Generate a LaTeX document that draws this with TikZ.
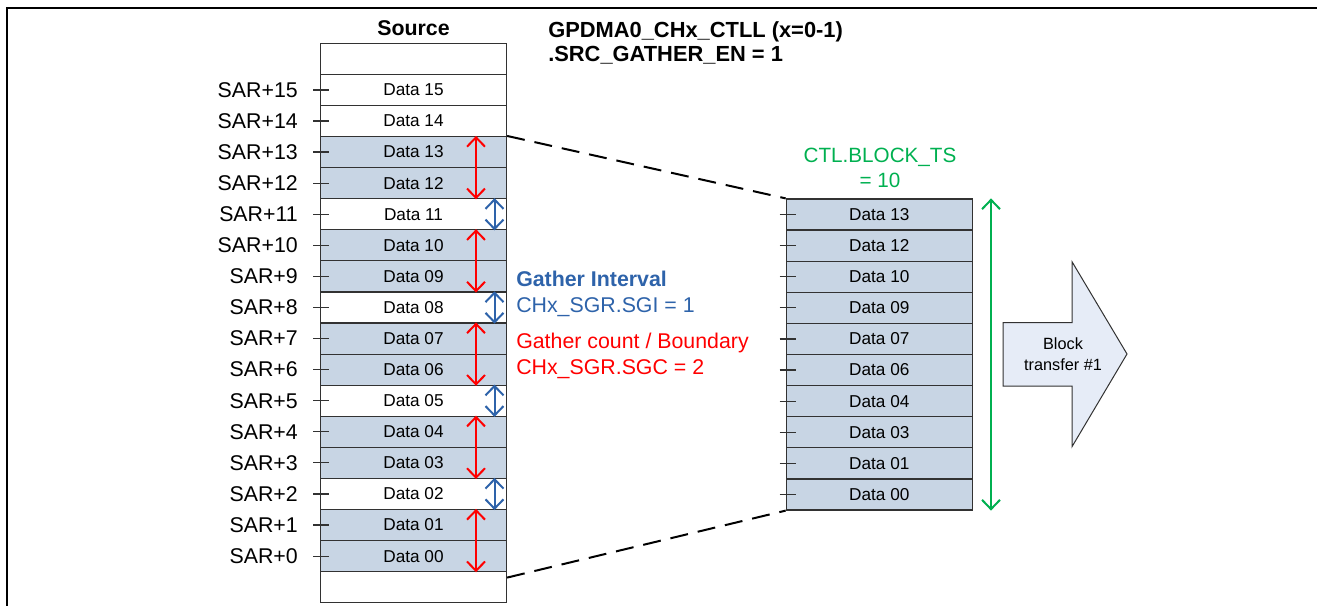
\documentclass[tikz,border=0pt]{standalone}
\usepackage{fontspec}
\setmainfont{Liberation Sans}
\usetikzlibrary{arrows.meta,calc}
\definecolor{cellfill}{RGB}{200,213,228}
\definecolor{cellline}{RGB}{50,50,50}
\definecolor{gblue}{RGB}{46,99,170}
\definecolor{gred}{RGB}{255,0,0}
\definecolor{ggreen}{RGB}{0,176,80}
\definecolor{blkfill}{RGB}{230,236,247}
\tikzset{
  cell/.style={draw=cellline,line width=0.9pt,minimum width=139.5pt,minimum height=23.31pt,inner sep=0pt,font=\fontsize{12.9}{15}\selectfont},
  shaded/.style={cell,fill=cellfill},
  plain/.style={cell,fill=white},
  sarlabel/.style={anchor=east,inner sep=0pt,font=\fontsize{16}{19}\selectfont},
  tickline/.style={draw=cellline,line width=0.9pt},
  dblarrow/.style={line width=1.5pt,{Straight Barb[length=7pt,width=13.5pt]}-{Straight Barb[length=7pt,width=13.5pt]}},
  redarr/.style={dblarrow,draw=gred},
  bluearr/.style={dblarrow,draw=gblue},
  greenarr/.style={dblarrow,draw=ggreen},
  dashline/.style={line width=1.5pt,dash pattern=on 13.5pt off 7.5pt},
  bigtext/.style={inner sep=0pt,font=\fontsize{16}{19}\selectfont},
  boldtext/.style={inner sep=0pt,font=\bfseries\fontsize{16}{19}\selectfont},
  regtext/.style={inner sep=0pt,font=\bfseries\fontsize{16.4}{19}\selectfont},
  blkarrow/.style={draw=cellline,line width=0.75pt,fill=blkfill},
}
\begin{document}
\begin{tikzpicture}[x=0.75pt,y=-0.75pt]
\useasboundingbox (0,0) rectangle (1317,606);
% frame
\draw[line width=1.6pt] (6.7,606) -- (6.7,7.7) -- (1317,7.7);
% source column
\node[plain] (stop) at (413.5,{43.3+31.08*0.5}) {};
\foreach \k/\lab/\st in {15/15/plain,14/14/plain,13/13/shaded,12/12/shaded,11/11/plain,10/10/shaded,9/09/shaded,8/08/plain,7/07/shaded,6/06/shaded,5/05/plain,4/04/shaded,3/03/shaded,2/02/plain,1/01/shaded,0/00/shaded}{
  \pgfmathsetmacro\yy{43.3+31.08*(16-\k+0.5)}
  \node[\st] (s\lab) at (413.5,\yy) {Data \lab};
  \node[sarlabel] (sar\lab) at (298,\yy) {SAR+\k};
  \draw[tickline] ([xshift=-4.9pt]s\lab.west) -- ([xshift=7.1pt]s\lab.west);
}
\node[plain] (sbot) at (413.5,{43.3+31.08*17.5}) {};
\node[boldtext,anchor=base] (src) at (413.5,35.2) {Source};
% destination column
\foreach \lab [count=\i from 0] in {13,12,10,09,07,06,04,03,01,00}{
  \pgfmathsetmacro\yy{199+31.1*(\i+0.5)}
  \node[shaded] (d\lab) at (879.3,\yy) {Data \lab};
  \draw[tickline] ([xshift=-4.5pt]d\lab.west) -- ([xshift=7.5pt]d\lab.west);
}
% register text
\node[regtext,anchor=base west] (reg1) at (548,38) {GPDMA0\_CHx\_CTLL (x=0-1)};
\node[regtext,anchor=base west] (reg2) at (548,62) {.SRC\_GATHER\_EN = 1};
% red arrows (gather count)
\foreach \a/\b in {13/12,10/09,07/06,04/03,01/00}{
  \draw[redarr] (s\a.north -| 476,0) -- (s\b.south -| 476,0);
}
% blue arrows (gather interval)
\foreach \a in {11,08,05,02}{
  \draw[bluearr] (s\a.north -| 494.5,0) -- (s\a.south -| 494.5,0);
}
% dashed projection lines
\draw[dashline] (s13.north east) -- (d13.north west);
\draw[dashline] ([yshift=-4pt]s00.south east) -- (d00.south west);
% gather texts
\node[boldtext,anchor=base west,text=gblue] (gi1) at (516,286) {Gather Interval};
\node[bigtext,anchor=base west,text=gblue] (gi2) at (516,312) {CHx\_SGR.SGI = 1};
\node[bigtext,anchor=base west,text=gred] (gc1) at (516,348.4) {Gather count / Boundary};
\node[bigtext,anchor=base west,text=gred] (gc2) at (516,374.4) {CHx\_SGR.SGC = 2};
% block size
\node[inner sep=0pt,anchor=base,text=ggreen,font=\fontsize{15.5}{19}\selectfont] (bts1) at (880,162.5) {CTL.BLOCK\_TS};
\node[inner sep=0pt,anchor=base,text=ggreen,font=\fontsize{15.5}{19}\selectfont] (bts2) at (880,188) {= 10};
\draw[greenarr] (d13.north -| 991,0) -- (d00.south -| 991,0);
% block transfer arrow
\draw[blkarrow] (1003,322.7) -- (1072,322.7) -- (1072,261.7) -- (1127,354) -- (1072,446.7) -- (1072,386) -- (1003,386) -- cycle;
\node[inner sep=0pt,anchor=base,font=\fontsize{12.2}{15}\selectfont] (blk1) at (1063,349.8) {Block};
\node[inner sep=0pt,anchor=base,font=\fontsize{12.2}{15}\selectfont] (blk2) at (1063,370.8) {transfer \#1};
\end{tikzpicture}
\end{document}
